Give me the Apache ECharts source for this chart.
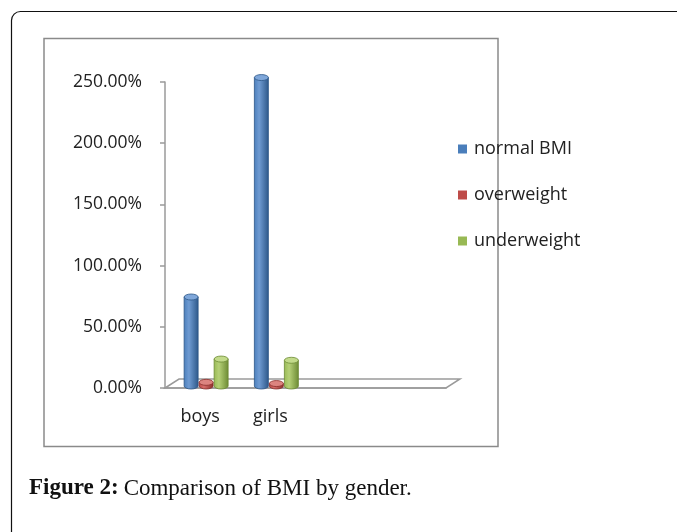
<!DOCTYPE html>
<html><head><meta charset="utf-8">
<script src="https://cdn.jsdelivr.net/npm/echarts@6/dist/echarts.min.js"></script>
<style>html,body{margin:0;padding:0;background:#fff}#c{width:677px;height:532px}</style>
</head><body><div id="c"></div>
<script>
const categories = ['boys', 'girls', '', ''];
const normalBMI = [72.7, 252];
const overweight = [3, 2];
const underweight = [22, 21];
const yTicks = [0, 50, 100, 150, 200, 250];

const seriesDefs = [
  {name: 'normal BMI', data: normalBMI, off: -15, base: '#4A7EBB', light: '#6F9BD2', dark: '#2C5788', top: '#7FA7DA'},
  {name: 'overweight', data: overweight, off: 0, base: '#BE4B48', light: '#D66E6B', dark: '#8A2D2A', top: '#DC8480'},
  {name: 'underweight', data: underweight, off: 15, base: '#98B954', light: '#B5D077', dark: '#6C8A33', top: '#C2DA8A'}
];

function cyl(def) {
  return function (params, api) {
    const c = api.value(0), v = api.value(1);
    const t = api.coord([c, v]);
    const b = api.coord([c, 0]);
    const cx = t[0] + def.off + 6;
    const yT = t[1] - 2, yB = b[1] - 2;
    const rx = 7, ry = 3;
    const xl = cx - rx, xr = cx + rx;
    const body = `M${xl} ${yT} L${xl} ${yB} A${rx} ${ry} 0 0 0 ${xr} ${yB} L${xr} ${yT} Z`;
    const topP = `M${xl} ${yT} A${rx} ${ry} 0 1 0 ${xr} ${yT} A${rx} ${ry} 0 1 0 ${xl} ${yT} Z`;
    return {
      type: 'group',
      children: [
        {type: 'path', shape: {pathData: body}, style: {
          fill: new echarts.graphic.LinearGradient(0, 0, 1, 0, [
            {offset: 0, color: def.base}, {offset: 0.35, color: def.light}, {offset: 1, color: def.dark}
          ]), stroke: def.dark, lineWidth: 0.8}},
        {type: 'path', shape: {pathData: topP}, style: {fill: def.top, stroke: def.dark, lineWidth: 0.8}}
      ]
    };
  };
}

const series = [{
  type: 'custom', name: 'floor', silent: true, data: [[0, 0]], z: 1,
  renderItem: function (params, api) {
    const cs = params.coordSys;
    const x0 = cs.x, x1 = cs.x + cs.width, y0 = cs.y + cs.height;
    const dx = 14, dy = -9;
    return {type: 'polygon', shape: {points: [[x0, y0], [x0 + dx, y0 + dy], [x1 + dx, y0 + dy], [x1, y0]]},
      style: {fill: '#fff', stroke: '#9a9a9a', lineWidth: 1.5}};
  }
}];
seriesDefs.forEach(d => {
  series.push({
    type: 'custom', name: d.name, clip: false, z: 5,
    data: d.data.map((v, i) => [i, v]),
    encode: {x: 0, y: 1},
    renderItem: cyl(d)
  });
});

const chart = echarts.init(document.getElementById('c'));
chart.setOption({
  animation: false,
  backgroundColor: '#fff',
  graphic: [
    {type: 'rect', shape: {x: 11.5, y: 11.5, width: 760, height: 640, r: 9}, style: {fill: 'none', stroke: '#111', lineWidth: 1.2}, z: -10},
    {type: 'rect', shape: {x: 44, y: 38.5, width: 454, height: 408}, style: {fill: 'none', stroke: '#8a8a8a', lineWidth: 1.5}, z: -10}
  ],
  title: {
    left: 24, top: 472,
    text: '{b|Figure 2:} {n|Comparison of BMI by gender.}',
    textStyle: {rich: {
      b: {fontFamily: 'Liberation Serif', fontWeight: 'bold', fontSize: 23, color: '#111'},
      n: {fontFamily: 'Liberation Serif', fontWeight: 'normal', fontSize: 23, color: '#111'}
    }}
  },
  legend: {
    orient: 'vertical', left: 453, top: 135, itemGap: 28,
    icon: 'rect', itemWidth: 9, itemHeight: 9,
    data: seriesDefs.map(d => ({name: d.name, itemStyle: {color: d.base}})),
    textStyle: {fontFamily: 'Open Sans', fontSize: 18, color: '#222', padding: [0, 0, 0, 2]}
  },
  grid: {left: 165, right: 231, top: 82, bottom: 144, containLabel: false},
  xAxis: {
    type: 'category', data: categories, boundaryGap: true,
    axisLine: {lineStyle: {color: '#9a9a9a', width: 1.5}},
    axisTick: {length: 8, lineStyle: {color: '#9a9a9a', width: 1.5}},
    axisLabel: {margin: 20, fontFamily: 'Open Sans', fontSize: 18, color: '#222'},
    z: 3
  },
  yAxis: {
    type: 'value', min: yTicks[0], max: yTicks[yTicks.length - 1], interval: 50,
    axisLine: {show: true, lineStyle: {color: '#9a9a9a', width: 1.5}},
    axisTick: {show: true, length: 5, lineStyle: {color: '#9a9a9a', width: 1.5}},
    splitLine: {show: false},
    axisLabel: {margin: 23, fontFamily: 'Open Sans', fontSize: 17.5, color: '#222',
      formatter: v => v.toFixed(2) + '%'}
  },
  series: series
});
</script></body></html>
